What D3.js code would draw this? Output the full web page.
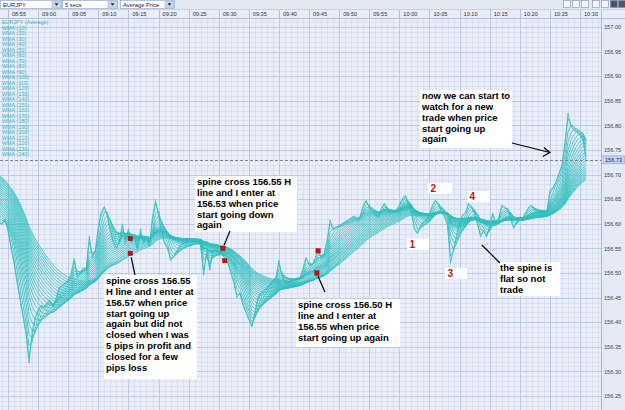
<!DOCTYPE html>
<html>
<head>
<meta charset="utf-8">
<script src="https://cdn.jsdelivr.net/npm/d3@7"></script>
<style>
body { margin: 0; background: #e9eef8; }
svg { display: block; font-family: "Liberation Sans", Arial, sans-serif; }
</style>
</head>
<body>
<div id="chart"></div>
<script>
//price samples, one every 30 seconds, first one at 08:33 (minute -22 from 08:55)
const startMinute = -22;
const stepMinutes = 0.5;
const price = [
    156.77, 156.78, 156.77, 156.79, 156.78, 156.77, 156.78, 156.79, 156.78, 156.77,
    156.78, 156.77, 156.78, 156.77, 156.76, 156.77, 156.76, 156.77, 156.76, 156.75,
    156.76, 156.75, 156.75, 156.76, 156.74, 156.74, 156.73, 156.74, 156.72, 156.71,
    156.71, 156.69, 156.68, 156.69, 156.67, 156.65, 156.66, 156.64, 156.62, 156.63,
    156.61, 156.60, 156.60, 156.61, 156.585, 156.55, 156.52, 156.48, 156.445, 156.41,
    156.375, 156.317, 156.38, 156.41, 156.425, 156.435, 156.43, 156.44, 156.445, 156.43,
    156.45, 156.47, 156.475, 156.48, 156.485, 156.50, 156.53, 156.49, 156.50, 156.51,
    156.51, 156.575, 156.53, 156.545, 156.595, 156.625, 156.635, 156.615, 156.585, 156.56,
    156.55, 156.565, 156.60, 156.56, 156.59, 156.56, 156.575, 156.545, 156.59, 156.56,
    156.57, 156.555, 156.615, 156.648, 156.615, 156.58, 156.56, 156.55, 156.525, 156.533,
    156.545, 156.555, 156.562, 156.562, 156.565, 156.567, 156.567, 156.565, 156.555, 156.495,
    156.548, 156.505, 156.545, 156.548, 156.542, 156.538, 156.53, 156.52, 156.50, 156.48,
    156.45, 156.46, 156.435, 156.42, 156.405, 156.39, 156.42, 156.45, 156.46, 156.465,
    156.47, 156.478, 156.486, 156.49, 156.526, 156.49, 156.48, 156.48, 156.486, 156.486,
    156.49, 156.49, 156.51, 156.532, 156.516, 156.516, 156.53, 156.547, 156.53, 156.54,
    156.567, 156.608, 156.587, 156.593, 156.597, 156.60, 156.604, 156.608, 156.612, 156.616,
    156.608, 156.616, 156.638, 156.648, 156.632, 156.622, 156.618, 156.614, 156.632, 156.642,
    156.628, 156.622, 156.624, 156.628, 156.638, 156.652, 156.658, 156.638, 156.624, 156.587,
    156.58, 156.595, 156.604, 156.608, 156.618, 156.638, 156.648, 156.638, 156.624, 156.614,
    156.597, 156.52, 156.55, 156.577, 156.604, 156.618, 156.624, 156.642, 156.634, 156.618,
    156.597, 156.573, 156.587, 156.573, 156.597, 156.622, 156.60, 156.612, 156.638, 156.634,
    156.628, 156.608, 156.59, 156.604, 156.614, 156.612, 156.624, 156.634, 156.638, 156.628,
    156.624, 156.624, 156.624, 156.624, 156.669, 156.673, 156.685, 156.703, 156.72, 156.764,
    156.825, 156.797, 156.79, 156.786, 156.78, 156.77, 156.73
];

//wma periods, in 5 sec bars
const wmaPeriods = [10, 20, 30, 40, 50, 60, 70, 80, 90, 100, 110, 120,
    130, 140, 150, 160, 170, 180, 190, 200, 210, 220, 230, 240];
const barSeconds = 5;

//axis labels
const timeLabels = ['08:55', '09:00', '09:05', '09:10', '09:15', '09:20', '09:25', '09:30', '09:35', '09:40',
    '09:45', '09:50', '09:55', '10:00', '10:05', '10:10', '10:15', '10:20', '10:25', '10:30'];
const priceTicks = [157.00, 156.95, 156.90, 156.85, 156.80, 156.75, 156.70, 156.65, 156.60,
    156.55, 156.50, 156.45, 156.40, 156.35, 156.30, 156.25];
const lastPrice = 156.73;

//entry markers (minute from 08:55, price)
const entryMinutes = [20.3, 20.3, 35.7, 36.0, 51.5, 51.3];
const entryPrices = [156.57, 156.54, 156.55, 156.525, 156.545, 156.50];

//notes
const note1 = ['spine cross 156.55', 'H line and I enter at', '156.57 when price', 'start going up',
    'again but did not', 'closed when I was', '5 pips in profit and', 'closed for a few', 'pips loss'];
const note2 = ['spine cross 156.55 H', 'line and I enter at', '156.53 when price', 'start going down', 'again'];
const note3 = ['spine cross 156.50 H', 'line and I enter at', '156.55 when price', 'start going up again'];
const note4 = ['now we can start to', 'watch for a new', 'trade when price', 'start going up', 'again'];
const note5 = ['the spine is', 'flat so not', 'trade'];
const swingLabels = ['1', '2', '3', '4'];

const width = 625, height = 410;
const plotTop = 19, axisLeft = 601;

let svg = d3.select('#chart')
    .append('svg')
    .attr('width', width)
    .attr('height', height);

//scales
let x = d3.scaleLinear().domain([0, 95]).range([8, 580]);
let y = d3.scaleLinear().domain([156.25, 157.00]).range([396, 27]);

//backgrounds
svg.append('rect').attr('width', width).attr('height', height).attr('fill', '#e9eef9');
svg.append('rect').attr('x', axisLeft).attr('y', plotTop).attr('width', width - axisLeft)
    .attr('height', height - plotTop).attr('fill', '#e4eaf6');

svg.append('clipPath').attr('id', 'plotclip')
    .append('rect').attr('x', 0).attr('y', plotTop).attr('width', axisLeft).attr('height', height - plotTop);

let grid = svg.append('g').attr('clip-path', 'url(#plotclip)');

//minor grid, one minute and one pip
grid.selectAll('line.vminor')
    .data(d3.range(-2, 100))
    .enter().append('line')
    .attr('x1', d => Math.round(x(d)) + 0.5).attr('x2', d => Math.round(x(d)) + 0.5)
    .attr('y1', plotTop).attr('y2', height)
    .attr('stroke', '#d9e1f1').attr('stroke-width', 1);
grid.selectAll('line.hminor')
    .data(d3.range(0, 90).map(i => 156.20 + i * 0.01))
    .enter().append('line')
    .attr('x1', 0).attr('x2', axisLeft)
    .attr('y1', d => Math.round(y(d)) + 0.5).attr('y2', d => Math.round(y(d)) + 0.5)
    .attr('stroke', '#d9e1f1').attr('stroke-width', 1);

//major grid
grid.selectAll('line.vmajor')
    .data(timeLabels)
    .enter().append('line')
    .attr('x1', (d, i) => Math.round(x(i * 5)) + 0.5).attr('x2', (d, i) => Math.round(x(i * 5)) + 0.5)
    .attr('y1', plotTop).attr('y2', height)
    .attr('stroke', '#bfcbe5').attr('stroke-width', 1);
grid.selectAll('line.hmajor')
    .data(priceTicks)
    .enter().append('line')
    .attr('x1', 0).attr('x2', axisLeft)
    .attr('y1', d => Math.round(y(d)) + 0.5).attr('y2', d => Math.round(y(d)) + 0.5)
    .attr('stroke', '#bfcbe5').attr('stroke-width', 1);

//weighted moving average on the 30 sec samples, weights taken from the 5 sec bars
function wma(values, period) {
    let barsPerSample = stepMinutes * 60 / barSeconds;
    let weights = [];
    for (let k = 0; k * barsPerSample < period; k++) {
        let w = 0;
        for (let j = k * barsPerSample; j < (k + 1) * barsPerSample; j++) {
            w += Math.max(0, period - j);
        }
        weights.push(w);
    }
    return values.map(function(v, i) {
        if (i < weights.length - 1) return null;
        let s = 0, ws = 0;
        weights.forEach(function(w, k) {
            s += values[i - k] * w;
            ws += w;
        });
        return s / ws;
    });
}

let minuteOf = i => startMinute + i * stepMinutes;

let line = d3.line()
    .defined(d => d !== null)
    .x((d, i) => x(minuteOf(i)))
    .y(d => y(d));

//ribbon, slowest first
let ribbon = svg.append('g').attr('clip-path', 'url(#plotclip)');
let series = wmaPeriods.slice().reverse().map(p => wma(price, p));
series.push(price);

ribbon.selectAll('path')
    .data(series)
    .enter().append('path')
    .attr('d', line)
    .attr('fill', 'none')
    .attr('stroke', '#30bfbf')
    .attr('stroke-width', 0.8);

//last price line
svg.append('line')
    .attr('x1', 0).attr('x2', axisLeft)
    .attr('y1', Math.round(y(lastPrice)) + 0.5).attr('y2', Math.round(y(lastPrice)) + 0.5)
    .attr('stroke', '#7d8594').attr('stroke-dasharray', '3,2');

//legend
let legendNames = ['EURJPY (Average)'].concat(wmaPeriods.map(p => `WMA (${p})`));
svg.append('g').selectAll('text')
    .data(legendNames)
    .enter().append('text')
    .attr('x', 2)
    .attr('y', (d, i) => 24 + i * 5.5)
    .attr('font-size', 5.4)
    .attr('fill', '#33b3bd')
    .text(d => d);

//price axis
svg.append('line').attr('x1', axisLeft + 0.5).attr('x2', axisLeft + 0.5)
    .attr('y1', plotTop).attr('y2', height).attr('stroke', '#a9b8d6');
let yAxis = svg.append('g')
    .attr('transform', `translate(${axisLeft}, 0)`)
    .call(d3.axisRight(y).tickValues(priceTicks).tickSize(0).tickPadding(3).tickFormat(d3.format('.2f')));
yAxis.select('.domain').remove();
yAxis.selectAll('text').attr('font-size', 5.6).attr('fill', '#3a3f4c').attr('font-family', null);

//last price tag
let tag = svg.append('g').attr('transform', `translate(${axisLeft}, ${y(lastPrice)})`);
tag.append('rect').attr('x', 0.5).attr('y', -4).attr('width', 23).attr('height', 8)
    .attr('fill', '#c3d1f0').attr('stroke', '#8ea3d3').attr('stroke-width', 0.6);
tag.append('text').attr('x', 4).attr('y', 2).attr('font-size', 5.6).attr('fill', '#2a3050')
    .text(d3.format('.2f')(lastPrice));

//toolbar and time header
svg.append('rect').attr('width', width).attr('height', 9).attr('fill', '#e3e8f2');
svg.append('rect').attr('y', 9).attr('width', width).attr('height', plotTop - 9).attr('fill', '#e8edf8');
svg.append('line').attr('x1', 0).attr('x2', width).attr('y1', plotTop - 0.5).attr('y2', plotTop - 0.5)
    .attr('stroke', '#b3c1de');
svg.append('line').attr('x1', 0).attr('x2', width).attr('y1', 9.5).attr('y2', 9.5)
    .attr('stroke', '#c6d1e6');

let header = svg.append('g');
header.selectAll('line')
    .data(timeLabels)
    .enter().append('line')
    .attr('x1', (d, i) => Math.round(x(i * 5)) + 0.5).attr('x2', (d, i) => Math.round(x(i * 5)) + 0.5)
    .attr('y1', 10).attr('y2', plotTop)
    .attr('stroke', '#b3c1de');
header.selectAll('text')
    .data(timeLabels)
    .enter().append('text')
    .attr('x', (d, i) => x(i * 5) + 4)
    .attr('y', 16)
    .attr('font-size', 5.6)
    .attr('fill', '#2d3240')
    .text(d => d);
svg.append('line').attr('x1', axisLeft + 0.5).attr('x2', axisLeft + 0.5)
    .attr('y1', 10).attr('y2', plotTop).attr('stroke', '#b3c1de');

//dropdowns
let combos = [['EURJPY', 0, 62], ['5 secs', 62, 118], ['Average Price', 120, 175]];
let combo = svg.append('g').selectAll('g')
    .data(combos)
    .enter().append('g');
combo.append('rect')
    .attr('x', d => d[1] + 0.5).attr('y', 0.5)
    .attr('width', d => d[2] - d[1] - 1).attr('height', 8)
    .attr('fill', '#ffffff').attr('stroke', '#8da2c4').attr('stroke-width', 0.6);
combo.append('rect')
    .attr('x', d => d[2] - 10).attr('y', 1.2)
    .attr('width', 9).attr('height', 6.6)
    .attr('fill', '#c8d7f0').attr('stroke', '#9fb3d8').attr('stroke-width', 0.5);
combo.append('path')
    .attr('d', d => `M${d[2] - 7.5},3.3 L${d[2] - 3.5},3.3 L${d[2] - 5.5},5.8 Z`)
    .attr('fill', '#1d2540');
combo.append('text')
    .attr('x', d => d[1] + 3).attr('y', 6.6)
    .attr('font-size', 5.8).attr('fill', '#1c2130')
    .text(d => d[0]);

//toolbar buttons on the right
let buttons = [563, 572, 581, 592, 601, 610, 618];
svg.append('g').selectAll('rect')
    .data(buttons)
    .enter().append('rect')
    .attr('x', d => d + 0.5).attr('y', 0.5)
    .attr('width', 7).attr('height', 7)
    .attr('fill', (d, i) => i >= 5 ? '#50566a' : '#f4f6fb')
    .attr('stroke', '#7b8db3').attr('stroke-width', 0.6);

//entry markers
svg.append('g').selectAll('rect')
    .data(entryMinutes)
    .enter().append('rect')
    .attr('x', (d, i) => x(d) - 2.2)
    .attr('y', (d, i) => y(entryPrices[i]) - 2.2)
    .attr('width', 4.4).attr('height', 4.4)
    .attr('fill', '#d00d0d').attr('stroke', '#8a0000').attr('stroke-width', 0.4);

//note boxes
function noteBox(lines, left, top, w, h) {
    let g = svg.append('g');
    g.append('rect').attr('x', left).attr('y', top).attr('width', w).attr('height', h).attr('fill', '#ffffff');
    g.selectAll('text')
        .data(lines)
        .enter().append('text')
        .attr('x', left + 2)
        .attr('y', (d, i) => top + 8.8 + i * 10.9)
        .attr('font-size', 9.5)
        .attr('font-weight', 'bold')
        .attr('fill', '#000000')
        .text(d => d);
}

function pointer(x1, y1, x2, y2) {
    svg.append('line')
        .attr('x1', x1).attr('y1', y1).attr('x2', x2).attr('y2', y2)
        .attr('stroke', '#000000').attr('stroke-width', 1.2);
}

noteBox(note1, 104, 275, 93, 104);
noteBox(note2, 195, 176, 102, 56);
noteBox(note3, 296, 299, 104, 48);
noteBox(note4, 420, 90, 92, 58);
noteBox(note5, 498, 262, 62, 34);

pointer(x(entryMinutes[1]) + 1, y(entryPrices[1]) + 4, 135, 275);
pointer(x(entryMinutes[2]) + 1, y(entryPrices[2]) - 3, 230, 231);
pointer(x(entryMinutes[5]) + 1, y(entryPrices[5]) + 3, 325, 292);

//arrow to the breakout
let arrowTip = [x(90), y(156.745)];
pointer(512, 143, arrowTip[0], arrowTip[1]);
svg.append('path')
    .attr('d', `M${arrowTip[0] - 6},${arrowTip[1] - 5} L${arrowTip[0]},${arrowTip[1]} L${arrowTip[0] - 7},${arrowTip[1] + 4}`)
    .attr('fill', 'none').attr('stroke', '#000000').attr('stroke-width', 1.2);

//flat spine pointer
pointer(x(78.7), y(156.557), 500, 263);

//swing numbers
let swingBoxes = [[407, 239, 22, 11], [428, 183, 24, 11], [445, 268, 22, 11], [467, 191, 23, 11]];
let swings = svg.append('g').selectAll('g')
    .data(swingLabels)
    .enter().append('g');
swings.append('rect')
    .attr('x', (d, i) => swingBoxes[i][0]).attr('y', (d, i) => swingBoxes[i][1])
    .attr('width', (d, i) => swingBoxes[i][2]).attr('height', (d, i) => swingBoxes[i][3])
    .attr('fill', '#ffffff');
swings.append('text')
    .attr('x', (d, i) => swingBoxes[i][0] + 2.5).attr('y', (d, i) => swingBoxes[i][1] + 9)
    .attr('font-size', 10).attr('font-weight', 'bold').attr('fill', '#c81010')
    .text(d => d);
</script>
</body>
</html>
